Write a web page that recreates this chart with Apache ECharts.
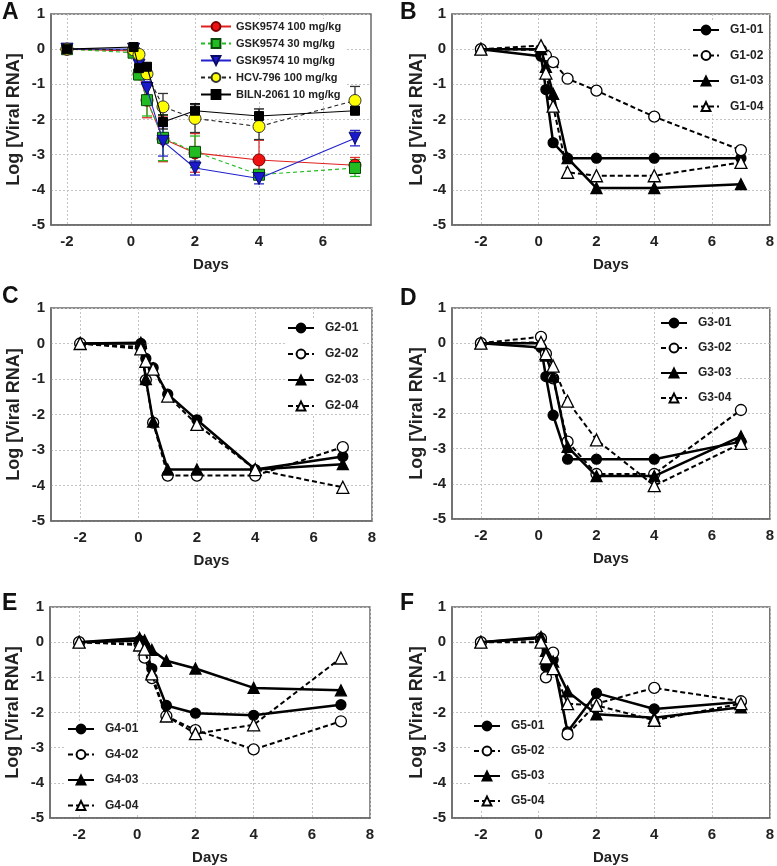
<!DOCTYPE html>
<html><head><meta charset="utf-8">
<script src="https://cdn.jsdelivr.net/npm/echarts@6/dist/echarts.min.js"></script>
<style>html,body{margin:0;padding:0;background:#fff}#c{width:777px;height:866px}</style>
</head><body><div id="c"></div>
<script>
// ---- data ----
const days = [-2, 0.08, 0.25, 0.5, 1, 2, 4, 7];
const xTicksA = [-2, 0, 2, 4, 6];
const xTicks = [-2, 0, 2, 4, 6, 8];

// Panel A (mean, SD)
const namesA = ['GSK9574 100 mg/kg', 'GSK9574 30 mg/kg', 'GSK9574 10 mg/kg', 'HCV-796 100 mg/kg', 'BILN-2061 10 mg/kg'];
const gsk100 = [0, -0.05, -0.7, -1.45, -2.55, -2.95, -3.15, -3.3];
const gsk100Err = [0, 0.05, 0.15, 0.5, 0.65, 0.55, 0.56, 0.22];
const gsk30 = [0, -0.1, -0.72, -1.45, -2.52, -2.92, -3.57, -3.38];
const gsk30Err = [0, 0.05, 0.15, 0.45, 0.65, 0.45, 0.05, 0.24];
const gsk10 = [0, 0, -0.45, -1.12, -2.62, -3.38, -3.68, -2.53];
const gsk10Err = [0, 0.05, 0.1, 0.2, 0.42, 0.2, 0.15, 0.22];
const hcv796 = [0, -0.02, -0.15, -0.7, -1.64, -1.97, -2.2, -1.46];
const hcv796Err = [0, 0.05, 0.05, 0.1, 0.38, 0.4, 0.37, 0.4];
const biln2061 = [0, 0.06, -0.54, -0.5, -2.07, -1.75, -1.9, -1.75];
const biln2061Err = [0, 0.05, 0.1, 0.1, 0.2, 0.2, 0.2, 0.1];

// Panel B
const g1_01 = [0, -0.2, -1.15, -2.66, -3.1, -3.1, -3.1, -3.1];
const g1_02 = [0, -0.02, -0.18, -0.37, -0.84, -1.18, -1.92, -2.87];
const g1_03 = [0, 0, -0.5, -1.27, -3.1, -3.95, -3.95, -3.84];
const g1_04 = [0, 0.1, -0.68, -1.62, -3.5, -3.6, -3.6, -3.22];
// Panel C
const g2_01 = [0, 0, -0.42, -0.68, -1.43, -2.15, -3.55, -3.18];
const g2_02 = [0, -0.1, -1.03, -2.23, -3.72, -3.72, -3.72, -2.92];
const g2_03 = [0, 0.02, -1.0, -2.2, -3.55, -3.55, -3.55, -3.4];
const g2_04 = [0, -0.15, -0.5, -0.72, -1.48, -2.28, -3.55, -4.05];
// Panel D
const g3_01 = [0, -0.12, -0.95, -2.05, -3.3, -3.3, -3.3, -2.8];
const g3_02 = [0, 0.18, -0.3, -1.0, -2.8, -3.72, -3.72, -1.9];
const g3_03 = [0, 0, -0.35, -0.95, -2.95, -3.78, -3.78, -2.65];
const g3_04 = [0, 0.02, -0.3, -0.65, -1.65, -2.75, -4.05, -2.85];
// Panel E
const g4_01 = [0, 0.05, -0.1, -0.75, -1.8, -2.02, -2.08, -1.78];
const g4_02 = [0, -0.05, -0.44, -1.02, -2.1, -2.5, -3.05, -2.25];
const g4_03 = [0, 0.12, 0.05, -0.22, -0.53, -0.75, -1.3, -1.37];
const g4_04 = [0, -0.08, -0.2, -0.9, -2.1, -2.6, -2.35, -0.45];
// Panel F
const g5_01 = [0, 0.12, -0.7, -0.5, -2.55, -1.45, -1.9, -1.7];
const g5_02 = [0, 0.1, -1.0, -0.3, -2.62, -1.75, -1.3, -1.68];
const g5_03 = [0, 0.15, -0.25, -0.55, -1.4, -2.05, -2.15, -1.85];
const g5_04 = [0, 0, -0.45, -0.75, -1.75, -1.8, -2.22, -1.75];

// ---- layout ----
const FONT = "'Liberation Sans', Arial, sans-serif";
const grids = [
  {left: 51, top: 14, width: 320, height: 211},
  {left: 452, top: 14, width: 320, height: 211},
  {left: 51, top: 308, width: 321, height: 213},
  {left: 452, top: 308, width: 320, height: 211},
  {left: 50, top: 607, width: 320, height: 211},
  {left: 452, top: 607, width: 320, height: 211}
];
const letters = [['A', 2, 1], ['B', 400, 1], ['C', 2, 285], ['D', 400, 287], ['E', 2, 592], ['F', 400, 592]];

const option = {
  backgroundColor: '#fff',
  animation: false,
  textStyle: {fontFamily: FONT},
  title: letters.map(l => ({text: l[0], left: l[1], top: l[2], padding: 0,
    textStyle: {fontFamily: FONT, fontSize: 23, fontWeight: 'bold', color: '#111'}})),
  grid: grids.map(g => Object.assign({show: true, borderColor: '#6a6a6a', borderWidth: 1.5, backgroundColor: 'transparent'}, g)),
  xAxis: grids.map((g, i) => ({
    type: 'value', gridIndex: i,
    min: i === 0 ? -2.5 : -3, max: i === 0 ? 7.5 : 8,
    name: 'Days', nameLocation: 'middle', nameGap: 32,
    nameTextStyle: {fontFamily: FONT, fontSize: 15, fontWeight: 'bold', color: '#222'},
    axisLine: {show: true, onZero: false, lineStyle: {color: '#6a6a6a', width: 1.5}},
    axisTick: {show: false, customValues: i === 0 ? xTicksA : xTicks},
    axisLabel: {customValues: i === 0 ? xTicksA : xTicks, fontFamily: FONT, fontSize: 15, fontWeight: 'bold', color: '#222', margin: 9},
    splitLine: {show: true, lineStyle: {color: '#c4c4c4', type: [2, 2], width: 1}}
  })),
  yAxis: grids.map((g, i) => ({
    type: 'value', gridIndex: i, min: -5, max: 1, interval: 1,
    name: 'Log [Viral RNA]', nameLocation: 'middle', nameRotate: 90, nameGap: i % 2 === 0 ? 28 : 26,
    nameTextStyle: {fontFamily: FONT, fontSize: 18, fontWeight: 'bold', color: '#222'},
    axisLine: {show: true, onZero: false, lineStyle: {color: '#6a6a6a', width: 1.5}},
    axisTick: {show: false},
    axisLabel: {fontFamily: FONT, fontSize: 15, fontWeight: 'bold', color: '#222', margin: 6},
    splitLine: {show: true, lineStyle: {color: '#c4c4c4', type: [2, 2], width: 1}}
  })),
  legend: [],
  series: []
};

function pts(vals) { return days.map((d, i) => [d, vals[i]]); }
function errPts(vals, errs) { return days.map((d, i) => [d, vals[i] - errs[i], vals[i] + errs[i]]); }

// Panel A series
const stylesA = [
  {vals: gsk100, err: gsk100Err, sym: 'circle', size: 12, fill: '#ee1111', border: '#7a0000', line: '#e02020', dash: 'solid', errC: '#e03030'},
  {vals: gsk30, err: gsk30Err, sym: 'rect', size: 11, fill: '#22bb22', border: '#0a4a0a', line: '#22bb22', dash: [4, 3], errC: '#22bb22'},
  {vals: gsk10, err: gsk10Err, sym: 'triangle', size: 12, fill: '#1a1acc', border: '#0a0a66', line: '#2020cc', dash: 'solid', errC: '#2828cc', rot: 180},
  {vals: hcv796, err: hcv796Err, sym: 'circle', size: 12, fill: '#ffff00', border: '#333', line: '#222', dash: [4, 3], errC: '#333'},
  {vals: biln2061, err: biln2061Err, sym: 'rect', size: 9, fill: '#000', border: '#000', line: '#000', dash: 'solid', errC: '#111'}
];
stylesA.forEach((s, k) => {
  option.series.push({
    type: 'custom', xAxisIndex: 0, yAxisIndex: 0, z: 1, silent: true,
    data: errPts(s.vals, s.err),
    renderItem: function (params, api) {
      const x = api.value(0);
      const lo = api.coord([x, api.value(1)]);
      const hi = api.coord([x, api.value(2)]);
      const hw = 5;
      const st = {stroke: s.errC, lineWidth: 1.3};
      return {type: 'group', children: [
        {type: 'line', shape: {x1: hi[0], y1: hi[1], x2: lo[0], y2: lo[1]}, style: st},
        {type: 'line', shape: {x1: hi[0] - hw, y1: hi[1], x2: hi[0] + hw, y2: hi[1]}, style: st},
        {type: 'line', shape: {x1: lo[0] - hw, y1: lo[1], x2: lo[0] + hw, y2: lo[1]}, style: st}
      ]};
    }
  });
  option.series.push({
    type: 'line', name: namesA[k], xAxisIndex: 0, yAxisIndex: 0, z: 3 + k,
    data: pts(s.vals), symbol: s.sym, symbolSize: s.size, symbolRotate: s.rot || 0, showSymbol: true,
    lineStyle: {color: s.line, width: 1.1, type: s.dash},
    itemStyle: {color: s.fill, borderColor: s.border, borderWidth: 1},
    emphasis: {disabled: true}
  });
});
option.legend.push({
  data: namesA, orient: 'vertical', left: 198, top: 19, itemGap: 6, itemWidth: 30, itemHeight: 11,
  backgroundColor: '#fff', padding: [2, 4, 2, 2],
  textStyle: {fontFamily: FONT, fontSize: 11, fontWeight: 'bold', color: '#222'}
});

// Panels B-F
const panels = [
  {names: ['G1-01', 'G1-02', 'G1-03', 'G1-04'], vals: [g1_01, g1_02, g1_03, g1_04], lg: {left: 690, top: 22, itemGap: 13.5}},
  {names: ['G2-01', 'G2-02', 'G2-03', 'G2-04'], vals: [g2_01, g2_02, g2_03, g2_04], lg: {left: 285, top: 320, itemGap: 14}},
  {names: ['G3-01', 'G3-02', 'G3-03', 'G3-04'], vals: [g3_01, g3_02, g3_03, g3_04], lg: {left: 658, top: 315, itemGap: 13}},
  {names: ['G4-01', 'G4-02', 'G4-03', 'G4-04'], vals: [g4_01, g4_02, g4_03, g4_04], lg: {left: 65, top: 721, itemGap: 13.5}},
  {names: ['G5-01', 'G5-02', 'G5-03', 'G5-04'], vals: [g5_01, g5_02, g5_03, g5_04], lg: {left: 471, top: 718, itemGap: 13}}
];
const mk = [
  {sym: 'circle', fill: '#000', dash: 'solid', w: 2.5, size: 10},
  {sym: 'circle', fill: '#fff', dash: [5, 3], w: 2, size: 11},
  {sym: 'triangle', fill: '#000', dash: 'solid', w: 2.5, size: 11},
  {sym: 'triangle', fill: '#fff', dash: [5, 3], w: 2, size: 12}
];
panels.forEach((p, pi) => {
  const ax = pi + 1;
  p.vals.forEach((v, k) => {
    const m = mk[k];
    option.series.push({
      type: 'line', name: p.names[k], xAxisIndex: ax, yAxisIndex: ax, z: 3 + k,
      data: pts(v), symbol: m.sym, symbolSize: m.size, showSymbol: true,
      lineStyle: {color: '#000', width: m.w, type: m.dash},
      itemStyle: {color: m.fill, borderColor: '#000', borderWidth: 1.3},
      emphasis: {disabled: true}
    });
  });
  option.legend.push(Object.assign({
    data: p.names, orient: 'vertical', itemWidth: 26, itemHeight: 11,
    backgroundColor: '#fff', padding: [2, 4, 2, 2],
    textStyle: {fontFamily: FONT, fontSize: 12, fontWeight: 'bold', color: '#222', padding: [0, 0, 0, 6]}
  }, p.lg));
});

const chart = echarts.init(document.getElementById('c'), null, {renderer: 'canvas'});
chart.setOption(option);
</script>
</body></html>
